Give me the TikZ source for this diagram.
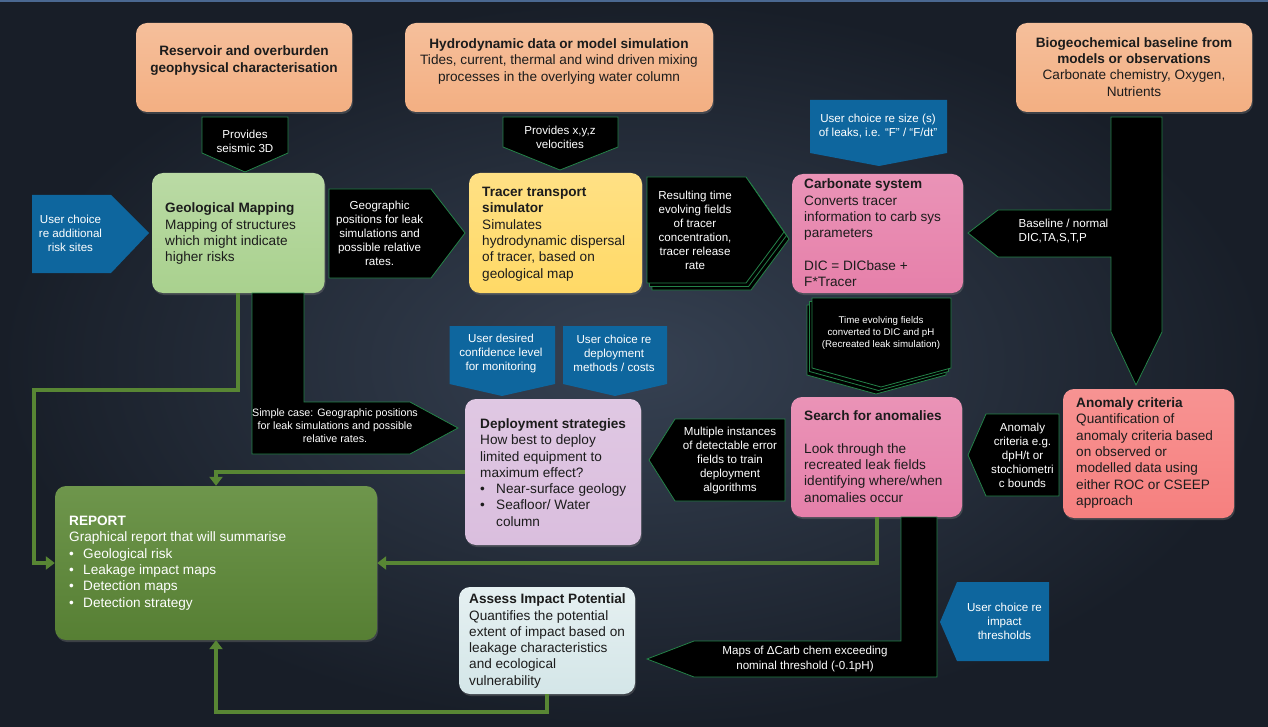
\documentclass[tikz,border=0pt]{standalone}
\usepackage{fontspec}
\setmainfont{Liberation Sans}
\usetikzlibrary{arrows.meta,shadows}
\definecolor{bgin}{RGB}{54,65,82}
\definecolor{bgout}{RGB}{24,30,40}
\definecolor{topline}{RGB}{74,104,145}
\definecolor{orng}{RGB}{243,175,130}
\definecolor{lgrn}{RGB}{169,209,142}
\definecolor{ylw}{RGB}{255,217,102}
\definecolor{pnk}{RGB}{230,128,170}
\definecolor{lil}{RGB}{218,190,222}
\definecolor{slm}{RGB}{246,128,127}
\definecolor{rgrn}{RGB}{94,138,56}
\definecolor{cyn}{RGB}{212,230,232}
\definecolor{ublue}{RGB}{14,102,158}
\definecolor{aedge}{RGB}{36,130,72}
\definecolor{lnc}{RGB}{88,134,52}
\definecolor{ink}{RGB}{28,28,28}
\tikzset{
  box/.style={rectangle, rounded corners=11pt, inner sep=0pt, draw=none,
    drop shadow={shadow xshift=1pt,shadow yshift=-2pt,opacity=0.35}},
  btxt/.style={inner sep=0pt, anchor=west, align=left, text=ink,
    font=\fontsize{13.6}{16.3}\selectfont},
  ctxt/.style={inner sep=0pt, align=center, text=ink,
    font=\fontsize{13.6}{16.5}\selectfont},
  stxt/.style={inner sep=0pt, align=center, text=white,
    font=\fontsize{11.6}{14}\selectfont},
  barrow/.style={fill=black, draw=aedge, line width=0.8pt, line join=miter},
  uarrow/.style={fill=ublue, draw=none},
  conn/.style={draw=lnc, line width=4pt, -{Triangle[width=13pt,length=9pt]}},
}
\begin{document}
\begin{tikzpicture}[x=1pt,y=-1pt]
\useasboundingbox (0,0) rectangle (1268,727);
% background
\shade[inner color=bgin, outer color=bgout] (0,0) rectangle (1268,727);
\fill[topline] (0,0) rectangle (1268,2.5);

% ---------- boxes ----------
\node[box, top color=orng!80!white, bottom color=orng, minimum width=216pt, minimum height=89pt] (res) at (244,67.5) {};
\node[box, top color=orng!80!white, bottom color=orng, minimum width=308pt, minimum height=89pt] (hyd) at (559,67.5) {};
\node[box, top color=orng!80!white, bottom color=orng, minimum width=236pt, minimum height=89pt] (bio) at (1134,67.5) {};
\node[box, top color=lgrn!80!white, bottom color=lgrn, minimum width=172.5pt, minimum height=120pt] (geo) at (238.25,233) {};
\node[box, top color=ylw!80!white, bottom color=ylw, minimum width=173pt, minimum height=120pt] (tra) at (555.5,233) {};
\node[box, top color=pnk!85!white, bottom color=pnk, minimum width=171pt, minimum height=119pt] (carb) at (877.5,233.5) {};
\node[box, top color=lil!85!white, bottom color=lil, minimum width=176pt, minimum height=146pt] (dep) at (553,472) {};
\node[box, top color=pnk!85!white, bottom color=pnk, minimum width=171pt, minimum height=120pt] (srch) at (876.5,457) {};
\node[box, top color=slm!85!white, bottom color=slm, minimum width=171pt, minimum height=129pt] (anom) at (1148.5,453.5) {};
\node[box, top color=rgrn!90!white, bottom color=rgrn!92!black, minimum width=322pt, minimum height=154pt] (rep) at (216,563) {};
\node[box, top color=cyn!60!white, bottom color=cyn, minimum width=176pt, minimum height=107pt] (ass) at (547,640.5) {};

% ---------- green connectors ----------
\coordinate (c1) at (34,390);
\draw[conn] (geo.south) |- (c1) |- (rep.west);
\draw[conn] (dep.west) -| (rep.north);
\draw[conn] (srch.south) |- (rep.east);
\draw[conn] (ass.south) -- ++(0,18) -| (rep.south);

% ---------- black block arrows ----------
\draw[barrow] (202,117) -- (288,117) -- (288,153) -- (245,172) -- (202,153) -- cycle;
\draw[barrow] (503,117) -- (618,117) -- (618,147) -- (560,170) -- (503,147) -- cycle;
\draw[barrow] (329,189) -- (431,189) -- (465,233) -- (431,278) -- (329,278) -- cycle;
\foreach \dx/\dy in {5/7, 2.5/3.5, 0/0}
  \draw[barrow, shift={(\dx,\dy)}] (647,177) -- (746,177) -- (784,232) -- (746,283) -- (647,283) -- cycle;
\draw[barrow] (1111,117) -- (1162,117) -- (1162,332) -- (1136,385) -- (1111,332) -- (1111,257)
  -- (998,257) -- (968,233) -- (998,210) -- (1111,210) -- cycle;
\foreach \dx/\dy in {-5/7, -2.5/3.5, 0/0}
  \draw[barrow, shift={(\dx,\dy)}] (812,298) -- (951,298) -- (951,368) -- (881,387) -- (812,368) -- cycle;
\draw[barrow] (252,293) -- (304,293) -- (304,402) -- (410,402) -- (458,428) -- (410,454) -- (252,454) -- cycle;
\draw[barrow] (649,460) -- (675,419) -- (785,419) -- (785,501) -- (675,501) -- cycle;
\draw[barrow] (968,455) -- (986,414) -- (1059,414) -- (1059,496) -- (986,496) -- cycle;
\draw[barrow] (901,517) -- (937,517) -- (937,677) -- (694,677) -- (647,659) -- (694,641) -- (901,641) -- cycle;

% ---------- blue user-choice arrows ----------
\fill[uarrow] (32,195) -- (111,195) -- (149,233) -- (111,273) -- (32,273) -- cycle;
\fill[uarrow] (810,100) -- (947,100) -- (947,153) -- (879,166) -- (810,153) -- cycle;
\fill[uarrow] (449.5,326) -- (555,326) -- (555,384) -- (502,396) -- (449.5,384) -- cycle;
\fill[uarrow] (563,326) -- (667,326) -- (667,384) -- (615,396) -- (563,384) -- cycle;
\fill[uarrow] (957,582) -- (1049,582) -- (1049,661) -- (957,661) -- (940,622) -- cycle;

% ---------- box texts ----------
\node[ctxt, font=\fontsize{13.6}{17}\selectfont\bfseries] (rest) at (244,60.7)
  {Reservoir and overburden\\geophysical characterisation};
\node[ctxt] (hydt) at (559,61)
  {\textbf{Hydrodynamic data or model simulation}\\Tides, current, thermal and wind driven mixing\\processes in the overlying water column};
\node[ctxt, font=\fontsize{13.6}{16.2}\selectfont] (biot) at (1134,67)
  {\textbf{Biogeochemical baseline from}\\\textbf{models or observations}\\Carbonate chemistry, Oxygen,\\Nutrients};
\node[btxt] (geot) at (165,233.7)
  {\textbf{Geological Mapping}\\Mapping of structures\\which might indicate\\higher risks};
\node[btxt] (trat) at (482,234)
  {\textbf{Tracer transport}\\\textbf{simulator}\\Simulates\\hydrodynamic dispersal\\of tracer, based on\\geological map};
\node[btxt] (carbt) at (804,233)
  {\textbf{Carbonate system}\\Converts tracer\\information to carb sys\\parameters\\[16.3pt]DIC = DICbase +\\F*Tracer};
\node[btxt] (dept) at (480,472.5)
  {\textbf{Deployment strategies}\\How best to deploy\\limited equipment to\\maximum effect?\\\makebox[16pt][l]{\textbullet}Near-surface geology\\\makebox[16pt][l]{\textbullet}Seafloor/ Water\\\hspace*{16pt}column};
\node[btxt] (srcht) at (804,456.5)
  {\textbf{Search for anomalies}\\[16.3pt]Look through the\\recreated leak fields\\identifying where/when\\anomalies occur};
\node[btxt] (anomt) at (1076,453)
  {\textbf{Anomaly criteria}\\Quantification of\\anomaly criteria based\\on observed or\\modelled data using\\either ROC or CSEEP\\approach};
\node[btxt, text=white] (rept) at (69,563)
  {\textbf{REPORT}\\Graphical report that will summarise\\\makebox[14pt][l]{\textbullet}Geological risk\\\makebox[14pt][l]{\textbullet}Leakage impact maps\\\makebox[14pt][l]{\textbullet}Detection maps\\\makebox[14pt][l]{\textbullet}Detection strategy};
\node[btxt] (asst) at (469,641)
  {\textbf{Assess Impact Potential}\\Quantifies the potential\\extent of impact based on\\leakage characteristics\\and ecological\\vulnerability};

% ---------- arrow texts ----------
\node[stxt] (at) at (245,141) {Provides\\seismic 3D};
\node[stxt] (bt) at (560,137) {Provides x,y,z\\velocities};
\node[stxt] (ct) at (379.6,233) {Geographic\\positions for leak\\simulations and\\possible relative\\rates.};
\node[stxt] (dt) at (695,230) {Resulting time\\evolving fields\\of tracer\\concentration,\\tracer release\\rate};
\node[stxt, anchor=west, align=left] (et) at (1018.5,231) {Baseline / normal\\DIC,TA,S,T,P};
\node[stxt, font=\fontsize{9.7}{12}\selectfont] (ft) at (881,333) {Time evolving fields\\converted to DIC and pH\\(Recreated leak simulation)};
\node[stxt, font=\fontsize{10.7}{13}\selectfont] (gt) at (335,426) {Simple case: Geographic positions\\for leak simulations and possible\\relative rates.};
\node[stxt] (ht) at (730,460) {Multiple instances\\of detectable error\\fields to train\\deployment\\algorithms};
\node[stxt] (it) at (1022.5,455) {Anomaly\\criteria e.g.\\dpH/t or\\stochiometri\\c bounds};
\node[stxt, font=\fontsize{11.6}{15}\selectfont] (jt) at (805,658.5) {Maps of ΔCarb chem exceeding\\nominal threshold (-0.1pH)};

% ---------- user-choice texts ----------
\node[stxt] (uat) at (70.5,233) {User choice\\re additional\\risk sites};
\node[stxt] (ubt) at (878,126) {User choice re size (s)\\of leaks, i.e. “F” / “F/dt”};
\node[stxt] (uct) at (501,353.5) {User desired\\confidence level\\for monitoring};
\node[stxt] (udt) at (614,353) {User choice re\\deployment\\methods / costs};
\node[stxt] (uet) at (1004.5,621) {User choice re\\impact\\thresholds};
\end{tikzpicture}
\end{document}
